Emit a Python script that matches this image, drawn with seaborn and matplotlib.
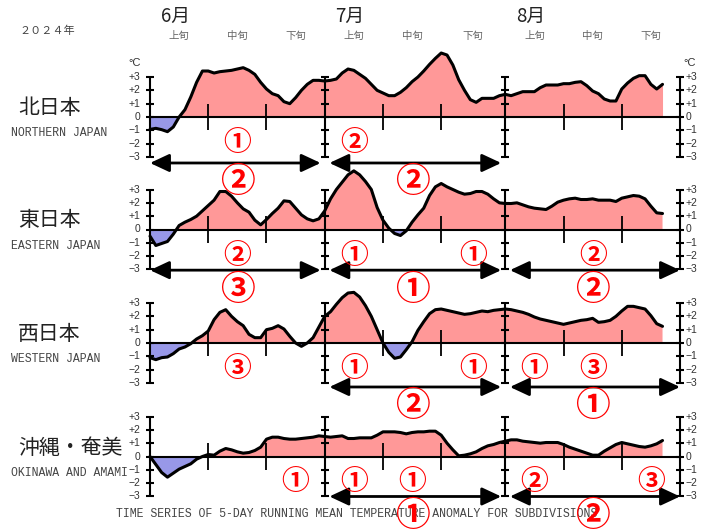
import matplotlib
matplotlib.use("Agg")
import matplotlib.pyplot as plt
import seaborn as sns
import numpy as np
import pandas as pd

# 5日移動平均気温平年差 (℃)  2024/6/1 .. 8/28
north = [-0.93, -0.85, -0.95, -1.1, -0.75, 0.0, 0.55, 1.5, 2.6, 3.45,
         3.45, 3.3, 3.4, 3.45, 3.5, 3.6, 3.7, 3.5, 3.2, 2.6,
         2.1, 1.75, 1.6, 1.15, 1.0, 1.45, 2.0, 2.45, 2.75, 2.75,
         2.7, 2.75, 2.85, 3.3, 3.6, 3.5, 3.2, 2.9, 2.45, 2.0,
         1.8, 1.6, 1.6, 1.85, 2.2, 2.65, 3.0, 3.45, 3.95, 4.4,
         4.8, 4.65, 3.9, 2.8, 2.0, 1.3, 1.1, 1.4, 1.4, 1.4,
         1.6, 1.7, 1.6, 1.75, 1.9, 1.9, 1.9, 2.2, 2.4, 2.4,
         2.4, 2.5, 2.5, 2.6, 2.65, 2.35, 1.95, 1.75, 1.35, 1.2,
         1.2, 2.1, 2.55, 2.9, 3.1, 3.1, 2.45, 2.1, 2.45]
east = [-0.5, -1.2, -1.05, -0.9, -0.35, 0.3, 0.55, 0.75, 1.0, 1.4,
        1.8, 2.2, 2.85, 2.85, 2.5, 2.0, 1.55, 1.3, 0.7, 0.35,
        0.75, 1.2, 1.6, 2.15, 2.1, 1.6, 1.1, 0.8, 0.65, 0.8,
        1.4, 2.3, 3.0, 3.55, 4.1, 4.4, 4.1, 3.6, 3.0, 1.65,
        0.7, 0.1, -0.3, -0.45, -0.1, 0.55, 1.1, 1.6, 2.55, 3.2,
        3.45, 3.2, 3.0, 2.8, 2.65, 2.7, 2.85, 2.85, 2.65, 2.3,
        2.0, 1.95, 1.95, 2.0, 1.85, 1.7, 1.6, 1.55, 1.5, 1.75,
        2.05, 2.2, 2.3, 2.35, 2.25, 2.25, 2.3, 2.2, 2.2, 2.2,
        2.1, 2.35, 2.45, 2.55, 2.5, 2.3, 1.75, 1.25, 1.2]
west = [-1.1, -1.25, -1.1, -1.05, -0.8, -0.45, -0.3, -0.05, 0.3, 0.55,
        0.9, 1.75, 2.3, 2.5, 2.0, 1.6, 1.3, 0.65, 0.4, 0.4,
        1.0, 1.1, 1.3, 1.05, 0.5, 0.0, -0.25, 0.0, 0.4, 1.2,
        2.0, 2.35, 2.9, 3.4, 3.75, 3.8, 3.45, 2.8, 2.0, 1.0,
        0.0, -0.7, -1.15, -1.05, -0.5, 0.1, 0.95, 1.6, 2.2, 2.5,
        2.55, 2.45, 2.35, 2.25, 2.15, 2.2, 2.3, 2.4, 2.35, 2.45,
        2.5, 2.55, 2.5, 2.4, 2.3, 2.15, 1.95, 1.8, 1.7, 1.6,
        1.5, 1.4, 1.5, 1.6, 1.7, 1.75, 1.85, 1.55, 1.6, 1.7,
        2.0, 2.4, 2.75, 2.75, 2.65, 2.55, 2.05, 1.45, 1.25]
okinawa = [0.0, -0.6, -1.2, -1.55, -1.25, -0.95, -0.75, -0.55, -0.2, 0.0,
           0.15, 0.1, 0.4, 0.6, 0.5, 0.35, 0.25, 0.3, 0.45, 0.7,
           1.3, 1.45, 1.45, 1.35, 1.3, 1.3, 1.35, 1.4, 1.45, 1.55,
           1.5, 1.45, 1.5, 1.55, 1.35, 1.35, 1.4, 1.4, 1.4, 1.6,
           1.85, 1.85, 1.85, 1.8, 1.7, 1.8, 1.85, 1.85, 1.9, 1.9,
           1.6, 1.0, 0.5, 0.05, 0.1, 0.2, 0.35, 0.6, 0.8, 0.9,
           1.05, 1.15, 1.25, 1.25, 1.15, 1.1, 1.05, 1.0, 1.05, 1.05,
           1.05, 0.9, 0.7, 0.55, 0.4, 0.25, 0.1, 0.1, 0.4, 0.65,
           0.9, 1.05, 0.95, 0.85, 0.75, 0.7, 0.8, 0.95, 1.2]

regions_ja = ["北日本", "東日本", "西日本", "沖縄・奄美"]
regions_en = ["NORTHERN JAPAN", "EASTERN JAPAN", "WESTERN JAPAN", "OKINAWA AND AMAMI"]
months = ["6月", "7月", "8月"]
dekads = ["上旬", "中旬", "下旬"]
month_start = [0, 30, 61, 91]
dekad_bounds = [0, 10, 20, 30, 40, 50, 61, 71, 81, 91]
yticks = [3, 2, 1, 0, -1, -2, -3]
ytick_labels = ["+3", "+2", "+1", "0", "\u22121", "\u22122", "\u22123"]

# 順位 (月 / 旬)
month_rank = [
    {"6月": 2, "7月": 2},
    {"6月": 3, "7月": 1, "8月": 2},
    {"7月": 2, "8月": 1},
    {"7月": 1, "8月": 2},
]
dekad_rank = [
    {("6月", "中旬"): 1, ("7月", "上旬"): 2},
    {("6月", "中旬"): 2, ("7月", "上旬"): 1, ("7月", "下旬"): 1, ("8月", "中旬"): 2},
    {("6月", "中旬"): 3, ("7月", "上旬"): 1, ("7月", "下旬"): 1,
     ("8月", "上旬"): 1, ("8月", "中旬"): 3},
    {("6月", "下旬"): 1, ("7月", "上旬"): 1, ("7月", "中旬"): 1,
     ("8月", "上旬"): 2, ("8月", "下旬"): 3},
]
circled = {1: "①", 2: "②", 3: "③"}

sns.set_theme(style="white")
plt.rcParams['font.family'] = ['Noto Sans CJK JP', 'DejaVu Sans']

RED = "#FF9898"
BLUE = "#9898E8"
W, H = 712, 530
X0, X1 = 150, 680          # 6/1 と 8/31 の位置 (px)
PPD = 13.33                # 1℃ あたり px
zero_px = [117, 229.5, 343, 456.5]
arrow_lv = [-3.45, -3.05, -3.3, -3.0]
DPX = (X1 - X0) / 91.0


def fx(x):
    return x / W


def fy(y):
    return 1 - y / H


def dekad_center(m, d):
    k = months.index(m) * 3 + dekads.index(d)
    return (dekad_bounds[k] + dekad_bounds[k + 1]) / 2


fig = plt.figure(figsize=(W / 100, H / 100), dpi=100)

# 上部の見出し
fig.text(fx(47), fy(31), "２０２４年", ha="center", va="center", fontsize=8, color="#444")
for mi, m in enumerate(months):
    fig.text(fx(X0 + (month_start[mi] + 4.3) * DPX), fy(16), m,
             ha="center", va="center", fontsize=13.5, color="#222")
    for d in dekads:
        fig.text(fx(X0 + dekad_center(m, d) * DPX), fy(36), d,
                 ha="center", va="center", fontsize=7.5, color="#666")

series = [north, east, west, okinawa]
for i, vals in enumerate(series):
    y0 = zero_px[i]
    ax = fig.add_axes([fx(X0), fy(y0 + 3 * PPD), (X1 - X0) / W, 6 * PPD / H])
    ax.set_xlim(0, 91)
    ax.set_ylim(-3, 3)
    ax.axis("off")

    v = np.array(vals)
    days = np.arange(len(v))
    df = pd.DataFrame({"day": days, "anom": v})
    ax.fill_between(days, v, 0, where=v >= 0, interpolate=True, color=RED, lw=0, clip_on=False)
    ax.fill_between(days, v, 0, where=v <= 0, interpolate=True, color=BLUE, lw=0, clip_on=False)

    # 軸線
    ax.plot([0, 91], [0, 0], color="black", lw=1.5, clip_on=False)
    ax.vlines(month_start, -3, 3, color="black", lw=1.5, clip_on=False)
    for xs in month_start:
        ax.hlines(yticks, xs - 0.7, xs + 0.7, color="black", lw=1.5, clip_on=False)
    ax.vlines([10, 20, 40, 50, 71, 81], -1, 1, color="black", lw=1.3, clip_on=False)

    sns.lineplot(data=df, x="day", y="anom", ax=ax, color="black", lw=2.2, clip_on=False)

    for yv, lab in zip(yticks, ytick_labels):
        ax.text(-1.6, yv, lab, ha="right", va="center", fontsize=7.5,
                color="#333", family="Liberation Sans")
        ax.text(91.9, yv, lab, ha="left", va="center", fontsize=7.5,
                color="#333", family="Liberation Sans")
    if i == 0:
        ax.text(-1.6, 4.05, "°C", ha="right", va="center", fontsize=8,
                color="#333", family="Liberation Sans")
        ax.text(91.6, 4.05, "°C", ha="left", va="center", fontsize=8,
                color="#333", family="Liberation Sans")

    # 月の矢印と順位
    ay = arrow_lv[i]
    for mi, m in enumerate(months):
        if m not in month_rank[i]:
            continue
        xa = month_start[mi] + (0.0 if mi == 0 else 0.8)
        xb = month_start[mi + 1] - (0.0 if mi == 2 else 0.7)
        ax.annotate("", xy=(xb, ay), xytext=(xa, ay), annotation_clip=False,
                    arrowprops=dict(arrowstyle="<|-|>,head_length=0.9,head_width=0.42",
                                    color="black", lw=2, shrinkA=0, shrinkB=0,
                                    mutation_scale=13))
        ypx = y0 - ay * PPD + 19
        fig.text(fx(X0 + dekad_center(m, "中旬") * DPX), fy(ypx), circled[month_rank[i][m]],
                 ha="center", va="center", fontsize=25, color="red",
                 fontweight="bold", zorder=10)
    for (m, d), r in dekad_rank[i].items():
        fig.text(fx(X0 + dekad_center(m, d) * DPX), fy(y0 + 26), circled[r],
                 ha="center", va="center", fontsize=20, color="red",
                 fontweight="bold", zorder=10)

    fig.text(fx(18), fy(y0 - 9), regions_ja[i], ha="left", va="center",
             fontsize=15, color="#222")
    fig.text(fx(11), fy(y0 + 16), regions_en[i], ha="left", va="center",
             fontsize=8.3, color="#444", family="Liberation Mono")

fig.text(fx(357), fy(514),
         "TIME SERIES OF 5-DAY RUNNING MEAN TEMPERATURE ANOMALY FOR SUBDIVISIONS",
         ha="center", va="center", fontsize=8.3, color="#444", family="Liberation Mono")

fig.savefig("out.png", dpi=100)
plt.close(fig)
